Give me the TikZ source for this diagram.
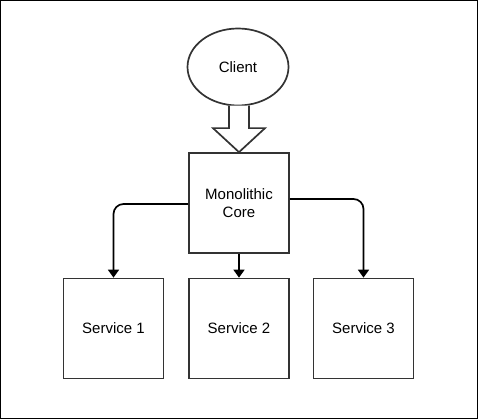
\documentclass[tikz,border=0pt]{standalone}
\usepackage{fontspec}
\setmainfont{Liberation Sans}
\usetikzlibrary{shapes.geometric,arrows.meta,calc}
\definecolor{edge}{HTML}{333333}
\begin{document}
\begin{tikzpicture}[x=1pt,y=-1pt,
  box/.style={draw=edge,line width=1.7pt,minimum width=100pt,minimum height=100pt,inner sep=0pt,align=center,font=\fontsize{15}{18}\selectfont},
  conn/.style={draw=black,line width=1.7pt,rounded corners=10pt,-{Triangle[length=8pt,width=11pt]}},
  hollow/.style={draw=edge,line width=1.7pt,fill=white,line join=miter}]
\useasboundingbox (0,0) rectangle (478,419);
\draw[black,line width=1pt] (0.5,0.5) rectangle (477.5,418.5);
\node[box,ellipse,minimum width=101pt,minimum height=77pt] (client) at (238,67) {Client};
\node[box] (core) at (239,203) {Monolithic\\Core};
\node[box] (s1) at (113.5,328.5) {Service 1};
\node[box] (s2) at (239,328.5) {Service 2};
\node[box] (s3) at (363.5,328.5) {Service 3};
\draw[hollow] ($(core.north)+(-10,-46.5)$) -- ($(core.north)+(-10,-24)$) -- ($(core.north)+(-26,-24)$) -- (core.north) -- ($(core.north)+(26,-24)$) -- ($(core.north)+(10,-24)$) -- ($(core.north)+(10,-46.5)$);
\draw[conn] (core.west |- 0,204) -| (s1.north);
\draw[conn] (core.south) -- (s2.north);
\draw[conn] (core.east |- 0,199) -| (s3.north);
\end{tikzpicture}
\end{document}
